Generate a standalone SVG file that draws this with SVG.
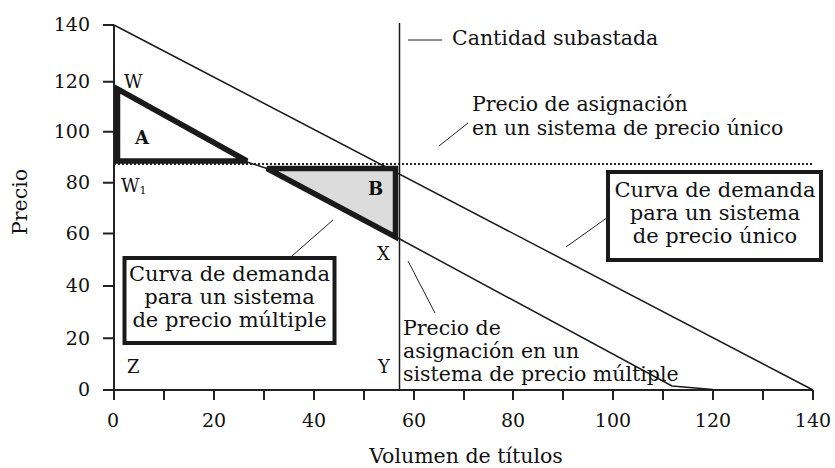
<svg xmlns="http://www.w3.org/2000/svg" width="835" height="468" viewBox="0 0 835 468">
<style>
  text { font-family: "DejaVu Serif", "Liberation Serif", serif; fill: #111; }
  .tick { font-size: 19px; }
  .lbl { font-size: 20.5px; }
  .box-t { font-size: 21px; text-anchor: middle; }
  .pt { font-size: 18px; }
  .ax { stroke: #222; stroke-width: 2; fill: none; }
  .thin { stroke: #1a1a1a; stroke-width: 1.5; fill: none; }
  .lead { stroke: #222; stroke-width: 1; fill: none; }
  .thick { stroke: #1a1a1a; stroke-width: 5.5; stroke-linejoin: miter; stroke-miterlimit: 2; }
  .box { fill: #fff; stroke: #1a1a1a; stroke-width: 4; }
</style>
<rect width="835" height="468" fill="#fff"/>

<g id="axes">
  <path class="ax" d="M114,25 V390 M103,390 H813"/>
  <path class="ax" d="M103,25 H114 M103,81.7 H114 M103,131.7 H114 M103,182.7 H114 M103,233.5 H114 M103,286 H114 M103,338.3 H114"/>
  <path class="ax" d="M114,390 V400 M164,390 V400 M214,390 V400 M264,390 V400 M314,390 V400 M364,390 V400 M414,390 V400 M464,390 V400 M513,390 V400 M563,390 V400 M613,390 V400 M663,390 V400 M713,390 V400 M763,390 V400 M813,390 V400"/>
  <g class="tick" text-anchor="end">
    <text x="90" y="31">140</text>
    <text x="90" y="88">120</text>
    <text x="90" y="138">100</text>
    <text x="90" y="189">80</text>
    <text x="90" y="240">60</text>
    <text x="90" y="292">40</text>
    <text x="90" y="344.5">20</text>
    <text x="90" y="396">0</text>
  </g>
  <g class="tick" text-anchor="middle">
    <text x="113" y="427">0</text>
    <text x="214" y="427">20</text>
    <text x="314" y="427">40</text>
    <text x="414" y="427">60</text>
    <text x="513" y="427">80</text>
    <text x="613" y="427">100</text>
    <text x="713" y="427">120</text>
    <text x="813" y="427">140</text>
  </g>
  <text class="lbl" x="466" y="463" text-anchor="middle">Volumen de títulos</text>
  <text class="lbl" transform="translate(27,202) rotate(-90)" text-anchor="middle">Precio</text>
</g>

<g id="allocation-single">
  <line x1="114" y1="164" x2="813" y2="164" stroke="#222" stroke-width="2" stroke-dasharray="2,2"/>
</g>

<g id="quantity-line">
  <line class="thin" x1="399.5" y1="23" x2="399.5" y2="390"/>
</g>

<g id="demand-single">
  <line class="thin" x1="114" y1="25" x2="813" y2="390"/>
</g>

<g id="demand-multiple">
  <path class="thin" d="M117.5,89 L247,162 L267,168.5 L396,237 L672,386 L713,389.5"/>
</g>

<g id="triangle-A">
  <polygon class="thick" points="117.5,89 117.5,161 247,161" fill="#fff"/>
  <text x="135" y="144" font-size="18" font-weight="bold">A</text>
</g>

<g id="triangle-B">
  <polygon class="thick" points="267,168.5 395.5,168.5 395.5,237" fill="#dcdcdc"/>
  <text x="368" y="195" font-size="18" font-weight="bold">B</text>
</g>

<g id="point-labels" class="pt">
  <text x="124" y="88">W</text>
  <text x="121" y="192">W<tspan font-size="11" dy="2">1</tspan></text>
  <text x="377" y="260">X</text>
  <text x="378" y="373">Y</text>
  <text x="127" y="373">Z</text>
</g>

<g id="label-quantity">
  <text class="lbl" x="452" y="45">Cantidad subastada</text>
</g>

<g id="label-single-price">
  <text class="lbl" x="472" y="111">Precio de asignación</text>
  <text class="lbl" x="472" y="135">en un sistema de precio único</text>
</g>

<g id="label-multiple-price">
  <text class="lbl" x="403" y="335">Precio de</text>
  <text class="lbl" x="403" y="358">asignación en un</text>
  <text class="lbl" x="403" y="381">sistema de precio múltiple</text>
</g>

<g id="box-single">
  <rect class="box" x="608" y="172" width="213" height="88"/>
  <text class="box-t" x="715" y="197">Curva de demanda</text>
  <text class="box-t" x="715" y="220">para un sistema</text>
  <text class="box-t" x="715" y="243">de precio único</text>
</g>

<g id="box-multiple">
  <rect class="box" x="124.5" y="258" width="210" height="85"/>
  <text class="box-t" x="229.5" y="281">Curva de demanda</text>
  <text class="box-t" x="229.5" y="304">para un sistema</text>
  <text class="box-t" x="229.5" y="327">de precio múltiple</text>
</g>

<g id="connectors">
  <line class="lead" x1="408" y1="40" x2="442" y2="40"/>
  <line class="lead" x1="439" y1="146" x2="468" y2="123"/>
  <line class="lead" x1="608" y1="217" x2="566" y2="247"/>
  <line class="lead" x1="292" y1="256" x2="333" y2="220"/>
  <line class="lead" x1="408" y1="261" x2="435" y2="313"/>
</g>
</svg>
